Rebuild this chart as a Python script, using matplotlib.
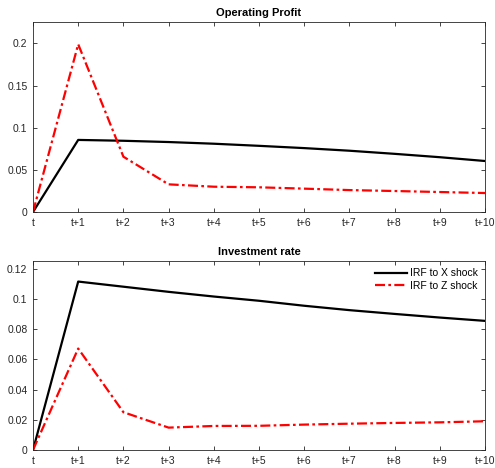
import matplotlib
matplotlib.use("Agg")
import matplotlib.pyplot as plt

plt.rcParams['font.family'] = ['Liberation Sans', 'DejaVu Sans']

tick_labels = ['t', 't+1', 't+2', 't+3', 't+4', 't+5', 't+6', 't+7', 't+8', 't+9', 't+10']
periods = list(range(11))

profit_x = [0, 0.0855, 0.0845, 0.083, 0.081, 0.0785, 0.0758, 0.0727, 0.069, 0.065, 0.0605]
profit_z = [0, 0.199, 0.0656, 0.0328, 0.030, 0.0293, 0.0277, 0.026, 0.0249, 0.0237, 0.0225]
invest_x = [0, 0.1114, 0.108, 0.1046, 0.1015, 0.0987, 0.0954, 0.0925, 0.090, 0.0876, 0.0854]
invest_z = [0, 0.0671, 0.025, 0.0148, 0.0159, 0.016, 0.0168, 0.0174, 0.0179, 0.0183, 0.019]

fig = plt.figure(figsize=(4.95, 4.68), dpi=100)
W, H = 495, 468
ax1 = fig.add_axes([33/W, 1 - 212/H, (485-33)/W, (212-22)/H])
ax2 = fig.add_axes([33/W, 1 - 450/H, (485-33)/W, (450-261)/H])

axcol = '#262626'
for ax, ysx, ysz, title, ylim, yticks, ylabs in [
    (ax1, profit_x, profit_z, 'Operating Profit', 0.2254, [0, 0.05, 0.1, 0.15, 0.2], ['0', '0.05', '0.1', '0.15', '0.2']),
    (ax2, invest_x, invest_z, 'Investment rate', 0.125, [0, 0.02, 0.04, 0.06, 0.08, 0.1, 0.12], ['0', '0.02', '0.04', '0.06', '0.08', '0.1', '0.12'])]:
    ax.plot(periods, ysx, color='black', lw=1.6, label='IRF to X shock')
    ax.plot(periods, ysz, color='red', lw=1.6, dashes=[4.5, 1.5, 1.2, 1.5], label='IRF to Z shock')
    ax.set_xlim(0, 10)
    ax.set_ylim(0, ylim)
    ax.set_xticks(periods)
    ax.set_xticklabels(tick_labels)
    ax.set_yticks(yticks)
    ax.set_yticklabels(ylabs)
    ax.tick_params(direction='in', top=True, right=True, labelsize=7.5, colors=axcol, length=3, width=0.6, pad=4)
    for s in ax.spines.values():
        s.set_color(axcol)
        s.set_linewidth(0.6)
    ax.set_title(title, fontsize=8, fontweight='bold', pad=4)

ax2.legend(loc='upper right', frameon=False, fontsize=7.5, handlelength=3.0, borderaxespad=0.3, labelspacing=0.25, handletextpad=0.3)

fig.savefig('out.png', dpi=100)
